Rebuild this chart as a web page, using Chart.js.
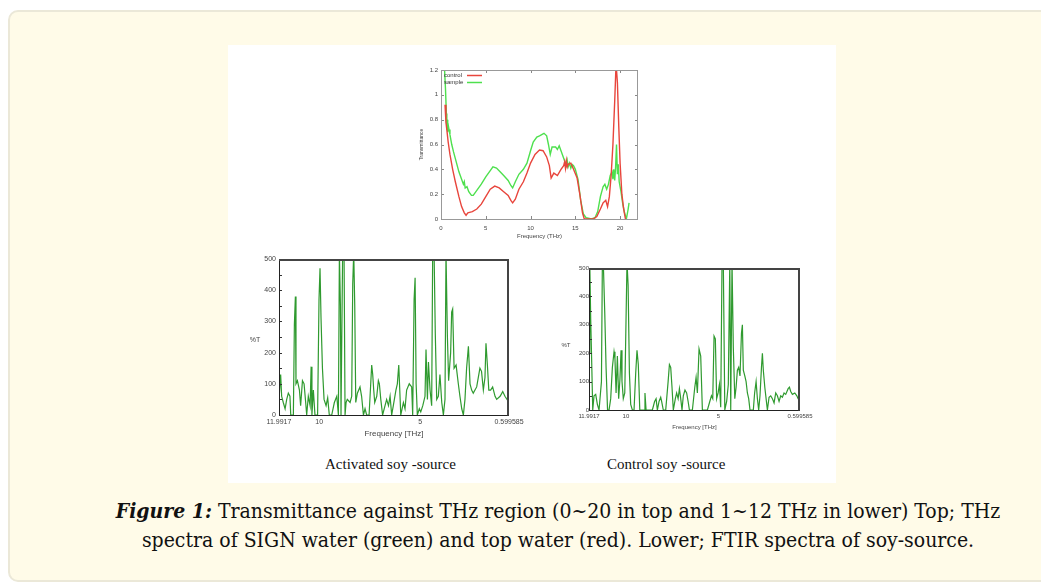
<!DOCTYPE html>
<html>
<head>
<meta charset="utf-8">
<script src="https://cdn.jsdelivr.net/npm/chart.js@4.4.1/dist/chart.umd.min.js"></script>
<style>
  html, body { margin: 0; padding: 0; background: #fff; width: 1041px; height: 583px; overflow: hidden; }
  .card { position: absolute; left: 8px; top: 10px; width: 1120px; height: 568px; background: #fffbe8;
          border: 2px solid #ebe8d8; border-radius: 10px; }
  .figure { position: absolute; left: 228px; top: 45px; width: 608px; height: 438px; background: #fff; }
  canvas { position: absolute; }
  .sub { position: absolute; top: 456px; font: 15px "Liberation Serif", serif; color: #111; white-space: nowrap; }
  .caption { position: absolute; left: 0; top: 496px; width: 1116px; text-align: center;
             font: 21px "DejaVu Serif Condensed", serif; line-height: 29px; color: #111; }
</style>
</head>
<body>
<div class="card"></div>
<div class="figure"></div>
<canvas id="top-chart" width="240" height="180" style="left:405px;top:60px"></canvas>
<canvas id="left-chart" width="300" height="189" style="left:240px;top:250px"></canvas>
<canvas id="right-chart" width="282" height="173" style="left:550px;top:258px"></canvas>
<div class="sub" style="left:325px">Activated soy -source</div>
<div class="sub" style="left:607px">Control soy -source</div>
<div class="caption"><b><i>Figure 1:</i></b> Transmittance against THz region (0~20 in top and 1~12 THz in lower) Top; THz<br>spectra of SIGN water (green) and top water (red). Lower; FTIR spectra of soy-source.</div>

<script>
// top chart: THz transmittance
const controlFreq = [0.45,0.55,0.65,0.8,1.0,1.3,1.6,2.0,2.3,2.6,2.8,3.0,3.5,4.0,4.5,5.0,5.5,6.0,6.5,7.0,7.5,7.8,8.0,8.3,8.7,9.2,9.6,10.0,10.5,11.0,11.4,11.8,12.1,12.3,12.6,13.0,13.4,13.7,13.8,13.9,14.0,14.1,14.2,14.5,14.8,15.2,15.5,15.8,16.0,16.5,17.0,17.4,17.8,18.1,18.4,18.6,18.8,19.0,19.2,19.4,19.55,19.7,19.85,20.0,20.2,20.4,20.6];
const controlT = [0.92,0.78,0.72,0.62,0.52,0.4,0.3,0.18,0.1,0.05,0.03,0.05,0.06,0.08,0.12,0.18,0.24,0.265,0.25,0.22,0.19,0.15,0.13,0.16,0.24,0.3,0.37,0.45,0.52,0.555,0.55,0.5,0.43,0.33,0.37,0.35,0.4,0.43,0.46,0.41,0.47,0.42,0.44,0.45,0.4,0.33,0.2,0.05,0,0,0,0.02,0.08,0.13,0.15,0.1,0.18,0.35,0.6,0.95,1.25,1.1,0.75,0.45,0.2,0.08,0];
const sampleFreq = [0.4,0.5,0.6,0.65,0.7,0.75,0.8,0.9,1.0,1.2,1.4,1.7,2.0,2.3,2.5,2.6,2.7,2.9,3.1,3.4,3.6,4.0,4.5,5.0,5.5,5.8,6.2,6.6,7.0,7.5,7.8,8.0,8.3,8.7,9.2,9.6,10.0,10.3,10.7,11.0,11.5,11.8,12.0,12.2,12.4,12.8,13.0,13.2,13.5,13.8,14.0,14.1,14.2,14.35,14.5,14.65,14.8,15.0,15.3,15.6,15.9,16.2,16.8,17.2,17.5,17.8,18.1,18.3,18.5,18.7,18.9,19.1,19.2,19.3,19.4,19.5,19.6,19.7,19.8,19.9,20.1,20.3,20.5,20.7,20.9,21.0];
const sampleT = [1.2,1.05,0.85,0.72,0.8,0.7,0.76,0.72,0.68,0.6,0.54,0.46,0.38,0.32,0.28,0.3,0.25,0.26,0.22,0.19,0.19,0.23,0.28,0.34,0.39,0.42,0.41,0.38,0.35,0.31,0.27,0.25,0.3,0.36,0.4,0.45,0.55,0.62,0.66,0.67,0.69,0.67,0.6,0.52,0.58,0.58,0.56,0.59,0.53,0.47,0.43,0.47,0.42,0.45,0.41,0.44,0.43,0.4,0.32,0.15,0.04,0.01,0,0.01,0.06,0.18,0.26,0.28,0.24,0.28,0.35,0.38,0.32,0.4,0.31,0.42,0.6,0.36,0.44,0.3,0.22,0.12,0.05,0,0.08,0.13];
const topXTicks = [0, 5, 10, 15, 20];
const topYTicks = [0, 0.2, 0.4, 0.6, 0.8, 1, 1.2];

// lower charts: FTIR spectra of soy-source
const activatedFreq = [11.97,11.91,11.86,11.78,11.69,11.61,11.53,11.45,11.41,11.28,11.23,11.18,11.15,11.08,10.98,10.92,10.83,10.75,10.67,10.62,10.54,10.45,10.40,10.36,10.29,10.21,10.08,10.01,9.96,9.91,9.84,9.76,9.66,9.58,9.50,9.38,9.25,9.13,9.05,9.00,8.95,8.92,8.84,8.77,8.72,8.67,8.61,8.47,8.39,8.34,8.29,8.24,8.19,8.11,7.98,7.90,7.81,7.73,7.65,7.53,7.40,7.35,7.30,7.25,7.15,7.07,7.02,6.95,6.86,6.66,6.57,6.49,6.41,6.33,6.20,6.13,6.06,6.01,5.96,5.83,5.75,5.67,5.54,5.42,5.37,5.30,5.25,5.20,5.14,5.04,4.97,4.87,4.76,4.71,4.64,4.59,4.51,4.43,4.38,4.31,4.25,4.18,4.10,4.02,3.93,3.85,3.77,3.72,3.65,3.59,3.49,3.44,3.39,3.32,3.22,3.11,3.03,2.94,2.86,2.78,2.70,2.61,2.53,2.45,2.37,2.20,2.04,1.96,1.87,1.79,1.74,1.67,1.60,1.51,1.41,1.29,1.21,1.04,0.91,0.80,0.60];
const activatedT = [70,130,60,40,20,50,70,60,0,0,290,380,100,110,80,30,110,100,40,0,60,30,155,0,80,0,0,370,470,310,150,50,30,55,0,0,40,60,0,520,350,0,520,520,0,40,50,40,60,420,520,350,40,70,90,60,0,20,0,0,160,130,80,40,60,110,100,50,0,50,30,60,0,30,80,100,160,80,0,40,20,80,100,90,0,370,440,100,0,20,10,30,60,210,50,170,80,30,520,520,260,50,60,130,40,0,50,520,250,110,200,330,340,150,160,100,60,20,0,50,150,220,100,80,70,90,150,140,80,120,230,160,80,80,90,60,50,60,75,60,40];
const controlSoyFreq = [11.99,11.95,11.90,11.85,11.79,11.72,11.63,11.54,11.45,11.40,11.32,11.27,11.22,11.14,11.07,10.99,10.91,10.82,10.73,10.64,10.59,10.53,10.46,10.39,10.32,10.26,10.21,10.14,10.06,10.01,9.94,9.88,9.81,9.74,9.65,9.56,9.47,9.40,9.33,9.25,9.11,9.02,8.97,8.91,8.75,8.57,8.45,8.37,8.30,8.21,8.12,8.07,7.98,7.85,7.72,7.65,7.58,7.51,7.44,7.33,7.26,7.18,7.11,7.04,6.97,6.90,6.81,6.72,6.64,6.57,6.41,6.28,6.21,6.14,6.05,5.96,5.87,5.74,5.60,5.47,5.38,5.31,5.24,5.17,5.10,5.02,4.95,4.88,4.81,4.74,4.66,4.56,4.47,4.39,4.34,4.27,4.20,4.12,4.05,3.98,3.91,3.84,3.76,3.71,3.66,3.58,3.51,3.44,3.37,3.30,3.22,3.12,3.05,2.97,2.90,2.83,2.76,2.68,2.63,2.58,2.50,2.43,2.36,2.27,2.18,2.09,2.00,1.91,1.82,1.73,1.64,1.55,1.46,1.37,1.24,1.17,1.10,1.01,0.88,0.77,0.70,0.60];
const controlSoyT = [200,520,320,180,0,50,55,20,0,0,100,520,520,340,150,0,0,40,150,205,180,60,190,40,110,210,100,40,60,250,520,440,130,20,0,0,130,210,160,0,0,0,60,0,0,0,30,40,0,30,45,30,0,0,100,160,150,80,0,40,60,40,75,40,0,50,70,60,30,0,0,80,115,60,215,190,0,0,0,30,50,40,260,250,40,60,90,10,520,520,0,30,90,520,0,520,220,40,80,140,150,120,270,300,140,120,100,60,40,0,0,0,60,100,40,0,50,150,200,140,80,40,0,45,50,40,25,60,50,30,50,45,60,55,75,80,65,55,60,50,40,30];
const ftirXTicks = [11.9917, 10, 5, 0.599585];
const ftirXLabels = ['11.9917', '10', '5', '0.599585'];
const ftirYTicks = [0, 100, 200, 300, 400, 500];
const ftirYMarks = [0, 50, 100, 150, 200, 250, 300, 350, 400, 450, 500];

const pts = (xs, ys) => xs.map((x, i) => ({ x: x, y: ys[i] }));
const fontFace = '"Liberation Sans", Arial, sans-serif';

// frame box, inward tick marks and an upright y label (gnuplot look)
const framePlugin = {
  id: 'frame',
  afterDatasetsDraw(chart, args, o) {
    const { ctx, chartArea: a, scales } = chart;
    ctx.save();
    ctx.strokeStyle = o.tickColor;
    ctx.lineWidth = 1;
    ctx.beginPath();
    o.yMarks.forEach((v) => {
      const py = Math.round(scales.y.getPixelForValue(v)) + 0.5;
      ctx.moveTo(a.left, py); ctx.lineTo(a.left + o.len, py);
      if (o.mirror) { ctx.moveTo(a.right, py); ctx.lineTo(a.right - o.len, py); }
    });
    o.xMarks.forEach((v) => {
      const px = Math.round(scales.x.getPixelForValue(v)) + 0.5;
      ctx.moveTo(px, a.bottom); ctx.lineTo(px, a.bottom - o.len);
      if (o.mirror) { ctx.moveTo(px, a.top); ctx.lineTo(px, a.top + o.len); }
    });
    ctx.stroke();
    ctx.strokeStyle = o.color;
    ctx.lineWidth = o.thin;
    ctx.beginPath();
    ctx.moveTo(a.left + 0.5, a.top); ctx.lineTo(a.left + 0.5, a.bottom + 0.5); ctx.lineTo(a.right, a.bottom + 0.5);
    ctx.stroke();
    ctx.strokeStyle = o.thickColor;
    ctx.lineWidth = o.thick;
    ctx.beginPath();
    ctx.moveTo(a.left, a.top + o.thick / 2); ctx.lineTo(a.right - o.thick / 2, a.top + o.thick / 2); ctx.lineTo(a.right - o.thick / 2, a.bottom + 0.5);
    ctx.stroke();
    if (o.label) {
      ctx.fillStyle = '#444';
      ctx.font = o.labelSize + 'px ' + fontFace;
      ctx.textAlign = 'center';
      ctx.textBaseline = 'middle';
      ctx.fillText(o.label, a.left - o.labelDx, (a.top + a.bottom) / 2 + o.labelDy);
    }
    ctx.restore();
  }
};

// legend: label text followed by a line sample
const keyPlugin = {
  id: 'key',
  afterDraw(chart, args, o) {
    if (!o.show) return;
    const { ctx, chartArea: a } = chart;
    ctx.save();
    ctx.font = '6px ' + fontFace;
    ctx.textBaseline = 'middle';
    chart.data.datasets.forEach((ds, i) => {
      const y = a.top + 5 + i * 7;
      ctx.fillStyle = '#333';
      ctx.fillText(ds.label, a.left + 3, y);
      ctx.strokeStyle = ds.borderColor;
      ctx.lineWidth = 1.5;
      ctx.beginPath(); ctx.moveTo(a.left + 26, y + 0.5); ctx.lineTo(a.left + 41, y + 0.5); ctx.stroke();
    });
    ctx.restore();
  }
};

function fixedTicks(values) {
  return (scale) => { scale.ticks = values.map((v) => ({ value: v })); };
}

function makeChart(id, datasets, cfg) {
  return new Chart(document.getElementById(id), {
    type: 'line',
    data: { datasets: datasets },
    plugins: [framePlugin, keyPlugin],
    options: {
      responsive: false,
      animation: false,
      devicePixelRatio: 1,
      layout: { padding: cfg.pad },
      elements: { point: { radius: 0 }, line: { tension: 0 } },
      plugins: {
        legend: { display: false },
        tooltip: { enabled: false },
        frame: cfg.frame,
        key: { show: cfg.key }
      },
      scales: {
        x: {
          type: 'linear',
          min: cfg.xMin, max: cfg.xMax, reverse: cfg.reverse,
          afterBuildTicks: fixedTicks(cfg.xTicks),
          afterFit: (s) => { s.height = cfg.xH; s.paddingLeft = 0; s.paddingRight = 0; },
          grid: { display: false, drawTicks: false }, border: { display: false },
          ticks: { autoSkip: false, maxRotation: 0, padding: cfg.xPad, color: '#444',
                   font: { family: fontFace, size: cfg.tickSize },
                   callback: (v, i) => cfg.xLabels ? cfg.xLabels[i] : String(v) },
          title: { display: true, text: cfg.xTitle, color: '#444', padding: 0,
                   font: { family: fontFace, size: cfg.titleSize } }
        },
        y: {
          min: cfg.yMin, max: cfg.yMax,
          afterBuildTicks: fixedTicks(cfg.yTicks),
          afterFit: (s) => { s.width = cfg.yW; s.paddingTop = 0; s.paddingBottom = 0; },
          grid: { display: false, drawTicks: false }, border: { display: false },
          ticks: { padding: cfg.yPad, color: '#444', font: { family: fontFace, size: cfg.tickSize },
                   callback: (v) => String(v) },
          title: { display: !!cfg.yTitle, text: cfg.yTitle, color: '#444', padding: 0,
                   font: { family: fontFace, size: cfg.yTitleSize } }
        }
      }
    }
  });
}

makeChart('top-chart', [
  { label: 'control', data: pts(controlFreq, controlT), borderColor: '#e8453c', borderWidth: 1.4 },
  { label: 'sample', data: pts(sampleFreq, sampleT), borderColor: '#4ee04e', borderWidth: 1.4 }
], {
  pad: { top: 10, right: 7, left: 14, bottom: 0 },
  xMin: 0, xMax: 22, xTicks: topXTicks, yMin: 0, yMax: 1.2, yTicks: topYTicks,
  xH: 21, yW: 22, xPad: 6, yPad: 3, tickSize: 6, titleSize: 6,
  xTitle: 'Frequency (THz)', yTitle: 'Transmittance', yTitleSize: 5,
  key: true,
  frame: { tickColor: '#888', len: 3, mirror: true, xMarks: topXTicks, yMarks: topYTicks,
           color: '#999', thin: 1, thickColor: '#999', thick: 1 }
});

makeChart('left-chart', [
  { label: 'Activated soy-source', data: pts(activatedFreq, activatedT), borderColor: '#2f9a2f', borderWidth: 1.2 }
], {
  pad: { top: 9, right: 31, left: 0, bottom: 0 },
  xMin: 0.599585, xMax: 11.9917, reverse: true, xTicks: ftirXTicks, xLabels: ftirXLabels,
  yMin: 0, yMax: 500, yTicks: ftirYTicks,
  xH: 24, yW: 39, xPad: 3, yPad: 3, tickSize: 7, titleSize: 8,
  xTitle: 'Frequency [THz]', yTitle: '',
  key: false,
  frame: { tickColor: '#333', len: 3, mirror: false, xMarks: [], yMarks: ftirYMarks,
           color: '#222', thin: 1, thickColor: '#444', thick: 2,
           label: '%T', labelSize: 7, labelDx: 24, labelDy: 3 }
});

makeChart('right-chart', [
  { label: 'Control soy-source', data: pts(controlSoyFreq, controlSoyT), borderColor: '#2f9a2f', borderWidth: 1.2 }
], {
  pad: { top: 10, right: 32, left: 0, bottom: 0 },
  xMin: 0.599585, xMax: 11.9917, reverse: true, xTicks: ftirXTicks, xLabels: ftirXLabels,
  yMin: 0, yMax: 500, yTicks: ftirYTicks,
  xH: 21, yW: 39, xPad: 3, yPad: 0, tickSize: 6, titleSize: 6,
  xTitle: 'Frequency [THz]', yTitle: '',
  key: false,
  frame: { tickColor: '#333', len: 3, mirror: false, xMarks: [], yMarks: ftirYMarks,
           color: '#222', thin: 1, thickColor: '#444', thick: 2,
           label: '%T', labelSize: 6, labelDx: 23, labelDy: 6 }
});
</script>
</body>
</html>
